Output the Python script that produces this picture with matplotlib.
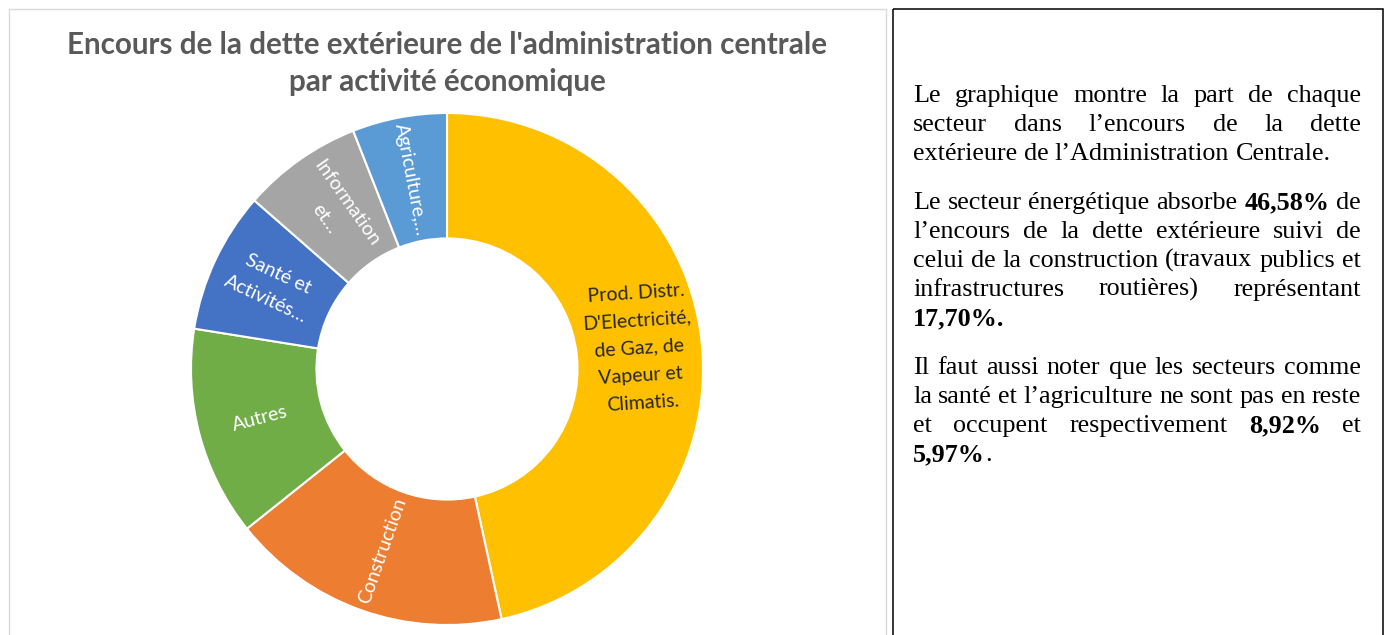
import matplotlib.pyplot as plt
from matplotlib.patches import Rectangle
import numpy as np

# parts de chaque secteur (en %)
secteurs = ["Prod. Distr.\nD'Electricité,\nde Gaz, de\nVapeur et\nClimatis.",
            "Construction",
            "Autres",
            "Santé et\nActivités…",
            "Information\net…",
            "Agriculture,…"]
parts = [46.58, 17.70, 13.24, 8.92, 7.59, 5.97]
couleurs = ['#FFC000', '#ED7D31', '#70AD47', '#4472C4', '#A5A5A5', '#5B9BD5']
couleurs_texte = ['#262626', 'white', 'white', 'white', 'white', 'white']

titre = ["Encours de la dette extérieure de l'administration centrale",
         "par activité économique"]

# texte du commentaire, ligne par ligne (** = gras)
paragraphes = [
    ["Le graphique montre la part de chaque",
     "secteur dans l’encours de la dette",
     "extérieure de l’Administration Centrale."],
    ["Le secteur énergétique absorbe **46,58%** de",
     "l’encours de la dette extérieure suivi de",
     "celui de la construction (travaux publics et",
     "infrastructures routières) représentant",
     "**17,70%.**"],
    ["Il faut aussi noter que les secteurs comme",
     "la santé et l’agriculture ne sont pas en reste",
     "et occupent respectivement **8,92%** et",
     "**5,97%**."],
]

W, H = 1387, 635


def decouper(ligne):
    """Découpe une ligne en mots, chaque mot = liste de (morceau, gras)."""
    mots = []
    gras = False
    for mot in ligne.split(' '):
        morceaux = []
        for j, m in enumerate(mot.split('**')):
            if j > 0:
                gras = not gras
            if m:
                morceaux.append((m, gras))
        mots.append(morceaux)
    return mots


def dessiner_texte(ax, renderer, x0=913, x1=1361, y0=102, pas=29, ecart=20):
    style = dict(family='Liberation Serif', fontsize=18.8, color='black', va='baseline')
    a = ax.text(0, -100, 'aa', **style)
    b = ax.text(0, -100, 'a a', **style)
    espace = b.get_window_extent(renderer).width - a.get_window_extent(renderer).width
    a.remove()
    b.remove()

    y = y0
    for para in paragraphes:
        for i, ligne in enumerate(para):
            mots = decouper(ligne)
            objets = []
            largeurs = []
            for mot in mots:
                morceaux = []
                w = 0
                for m, gras in mot:
                    t = ax.text(0, y, m, fontweight='bold' if gras else 'normal', **style)
                    lw = t.get_window_extent(renderer).width
                    morceaux.append((t, lw))
                    w += lw
                objets.append(morceaux)
                largeurs.append(w)
            if i < len(para) - 1 and len(mots) > 1:
                sp = (x1 - x0 - sum(largeurs)) / (len(mots) - 1)
            else:
                sp = espace
            x = x0
            for morceaux, w in zip(objets, largeurs):
                xx = x
                for t, lw in morceaux:
                    t.set_x(xx)
                    xx += lw
                x += w + sp
            y += pas
        y += ecart


def main():
    fig = plt.figure(figsize=(W / 100, H / 100), dpi=100)
    fond = fig.add_axes([0, 0, 1, 1])
    fond.set_xlim(0, W)
    fond.set_ylim(H, 0)
    fond.axis('off')

    # cadres
    fond.add_patch(Rectangle((9, 9), 877, 640, fill=False, edgecolor='#D9D9D9', lw=1))
    fond.add_patch(Rectangle((893, 9), 490, 640, fill=False, edgecolor='black', lw=1.1))

    # titre
    for y, ligne in zip([45, 82], titre):
        fond.text(447, y, ligne, ha='center', va='center', family='Lato',
                  fontweight='bold', fontsize=21.3, color='#595959')

    renderer = fig.canvas.get_renderer()
    dessiner_texte(fond, renderer)

    # anneau
    ax = fig.add_axes([191 / W, 10 / H, 512 / W, 512 / H])
    wedges, _ = ax.pie(parts, colors=couleurs, startangle=90, counterclock=False,
                       radius=1, wedgeprops=dict(width=0.49, edgecolor='white', linewidth=1.5))
    ax.set_xlim(-1, 1)
    ax.set_ylim(-1, 1)

    r_lab = 0.755
    for w, nom, ct in zip(wedges, secteurs, couleurs_texte):
        mid = (w.theta1 + w.theta2) / 2
        rad = np.deg2rad(mid)
        rot = (mid + 90) % 180 - 90
        if abs(rot) < 10:
            rot = rot * 0.6
        ax.text(r_lab * np.cos(rad), r_lab * np.sin(rad), nom, ha='center', va='center',
                rotation=rot, rotation_mode='anchor', family='Lato', fontsize=14,
                color=ct, linespacing=1.75, multialignment='center')

    fig.savefig('out.png', dpi=100)


if __name__ == '__main__':
    main()
